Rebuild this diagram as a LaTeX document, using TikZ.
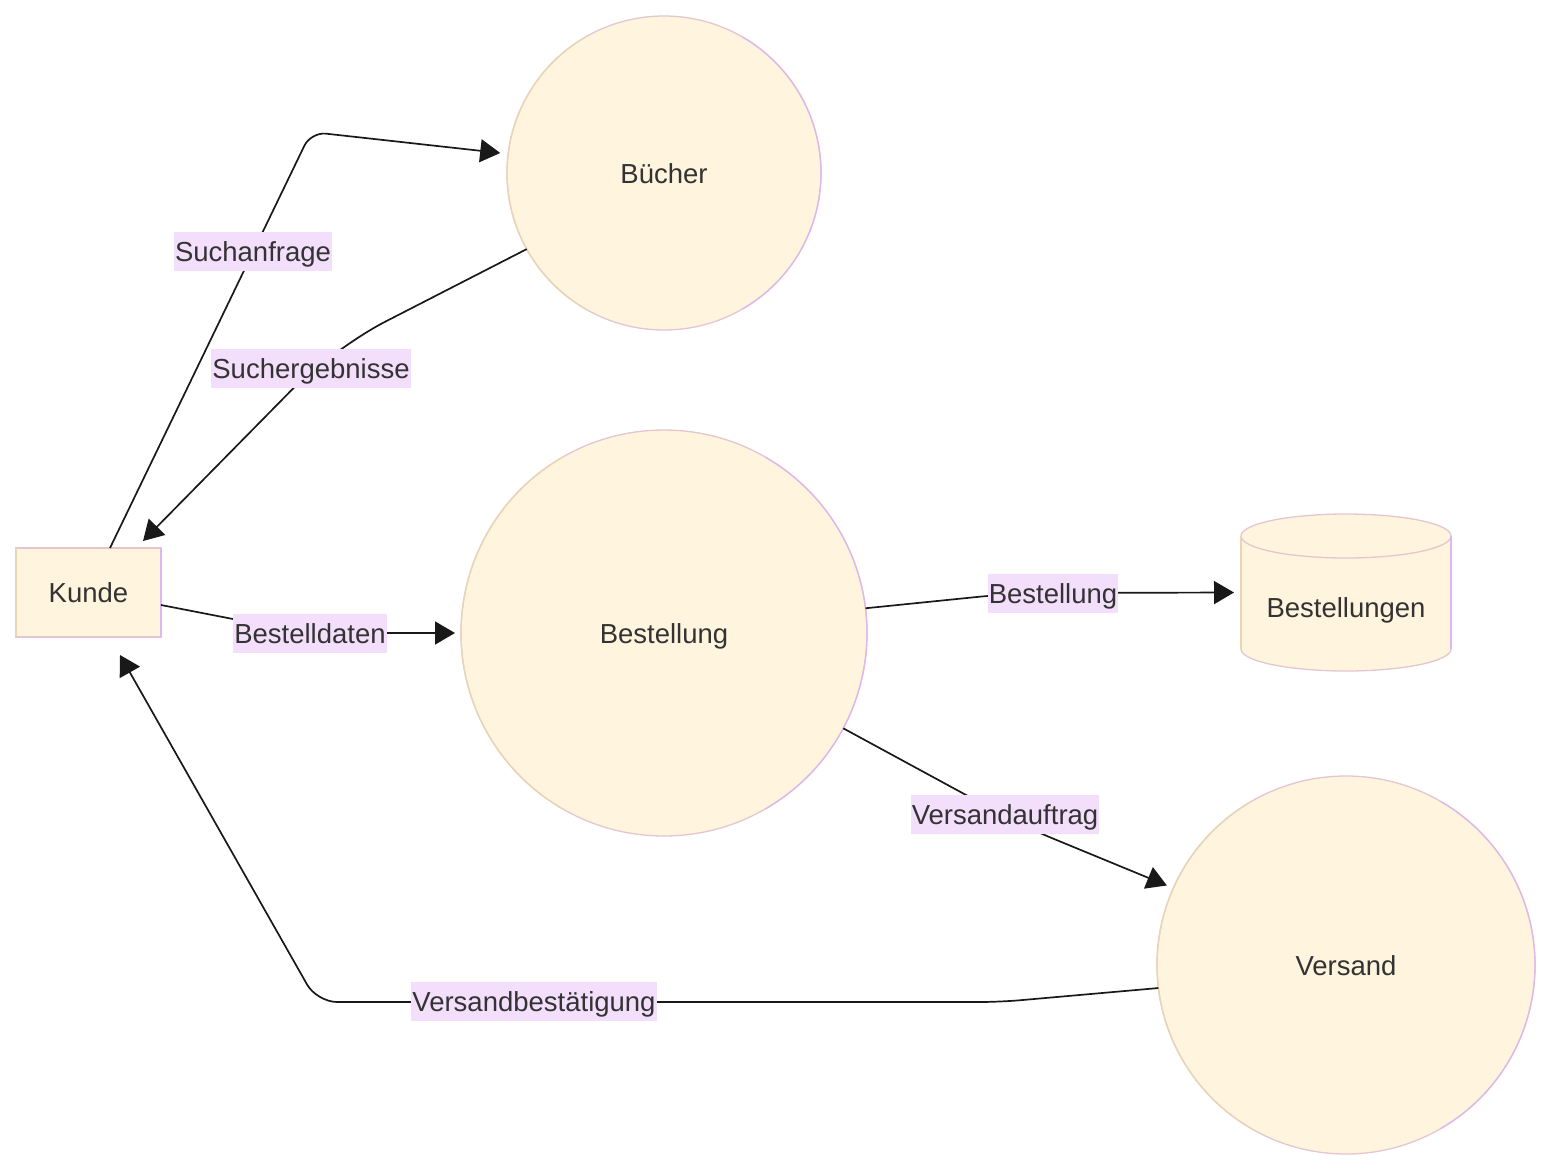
\documentclass[tikz,border=0pt]{standalone}
\usepackage{fontspec}
\setmainfont{Liberation Sans}
\usetikzlibrary{arrows.meta,calc}
\definecolor{nodefill}{HTML}{FFF4DD}
\definecolor{tanb}{HTML}{E9D5B2}
\definecolor{lilb}{HTML}{DDB8EE}
\colorlet{midb}{tanb!50!lilb}
\definecolor{lblbg}{HTML}{F3DEFB}
\definecolor{txt}{HTML}{333333}
\begin{document}
\begin{tikzpicture}[x=1pt,y=-1pt,
 font=\fontsize{27.5}{33}\selectfont,
 every node/.append style={text height=20pt, text depth=0pt},
 proc/.style={circle, fill=nodefill, draw=midb, line width=1.3pt, inner sep=0pt, outer sep=0pt, text=txt},
 ent/.style={rectangle, fill=nodefill, draw=midb, line width=1.3pt, minimum width=145pt, minimum height=89pt, inner sep=0pt, outer sep=0pt, text=txt},
 lbl/.style={fill=lblbg, text=txt, inner xsep=1pt, inner ysep=0pt, minimum height=39pt},
 bordertan/.style={tanb, line width=1.3pt},
 borderlil/.style={lilb, line width=1.3pt},
 edge/.style={line width=1.7pt, black!90, -{Triangle[length=20pt,width=23pt]}}]
\useasboundingbox (0,0) rectangle (1552,1170);

% nodes
\node[ent] (k) at (88.5,592.5) {Kunde};
\draw[bordertan] (k.north west) -- (k.south west);
\draw[borderlil] (k.north east) -- (k.south east);

\node[proc, minimum size=314pt] (b) at (664,173) {Bücher};
\draw[bordertan] (b.120) arc[start angle=120, end angle=240, radius=157pt];
\draw[borderlil] (b.-60) arc[start angle=-60, end angle=60, radius=157pt];

\node[proc, minimum size=406pt] (o) at (664,633) {Bestellung};
\draw[bordertan] (o.120) arc[start angle=120, end angle=240, radius=203pt];
\draw[borderlil] (o.-60) arc[start angle=-60, end angle=60, radius=203pt];

\node[proc, minimum size=378pt] (v) at (1346,965) {Versand};
\draw[bordertan] (v.120) arc[start angle=120, end angle=240, radius=189pt];
\draw[borderlil] (v.-60) arc[start angle=-60, end angle=60, radius=189pt];

% cylinder store
\node[minimum width=210pt, minimum height=157pt, inner sep=0pt, outer sep=0pt] (db) at (1346,592.5) {};
\fill[nodefill] (1241,536) -- (1241,649) arc[start angle=180, end angle=360, x radius=105pt, y radius=22pt]
  -- (1451,536) arc[start angle=0, end angle=180, x radius=105pt, y radius=22pt] -- cycle;
\draw[midb, line width=1.3pt] (1241,536) arc[start angle=180, end angle=360, x radius=105pt, y radius=22pt];
\draw[midb, line width=1.3pt] (1241,536) arc[start angle=180, end angle=0, x radius=105pt, y radius=22pt];
\draw[midb, line width=1.3pt] (1241,649) arc[start angle=180, end angle=360, x radius=105pt, y radius=22pt];
\draw[bordertan] (1241,536) -- (1241,649);
\draw[borderlil] (1451,536) -- (1451,649);
\node[text=txt] (dbl) at (1346,607) {Bestellungen};

% edges
\draw[edge, rounded corners=15pt, shorten >=8pt] ($(k.north)+(21.5,0)$) -- (311,132) -- (b.173);
\draw[edge, rounded corners=60pt] (b.209) -- (332,349) -- ($(k.north east)+(-18,-7)$);
\draw[edge, rounded corners=40pt, shorten >=6pt] ($(k.east)+(0,12.5)$) -- (305,633) -- (o.west);
\draw[edge, rounded corners=40pt, shorten >=7pt] (o.7) -- (1016,593) -- (db.west);
\draw[edge, rounded corners=30pt, shorten >=7pt] (o.-28) -- (1025,827) -- (v.156.6);
\draw[edge, rounded corners=20pt] (v.187) -- (1000,1002) -- (317,1002) -- ($(k.south)+(31.5,18)$);

% labels
\node[lbl] (l1) at (253,251) {Suchanfrage};
\node[lbl] (l2) at (311,368) {Suchergebnisse};
\node[lbl] (l3) at (310,633) {Bestelldaten};
\node[lbl] (l4) at (1053,593) {Bestellung};
\node[lbl] (l5) at (1005,814) {Versandauftrag};
\node[lbl] (l6) at (534,1001) {Versandbestätigung};
\end{tikzpicture}
\end{document}
